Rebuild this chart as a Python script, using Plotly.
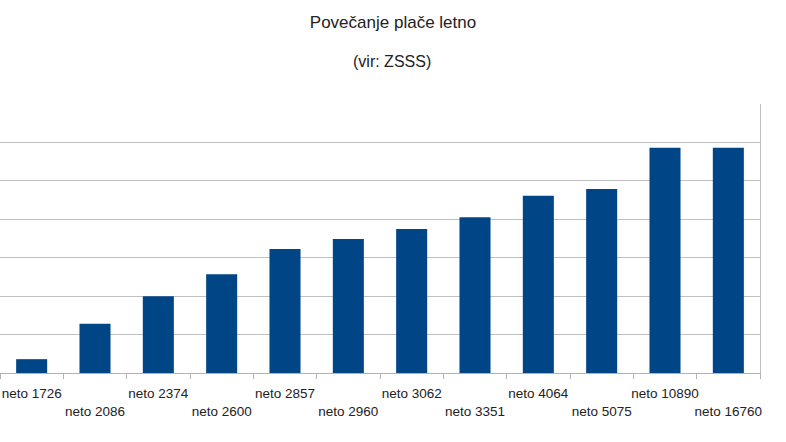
import plotly.graph_objects as go

categories = ["neto 1726", "neto 2086", "neto 2374", "neto 2600", "neto 2857", "neto 2960",
              "neto 3062", "neto 3351", "neto 4064", "neto 5075", "neto 10890", "neto 16760"]
# values in gridline units (axis labels are not visible in the reference)
values = [0.36, 1.28, 2.0, 2.57, 3.23, 3.49, 3.75, 4.05, 4.61, 4.79, 5.86, 5.86]
# staggered labels: every second label on a second row
tick_text = [c if i % 2 == 0 else "<br>" + c for i, c in enumerate(categories)]

FONT = "Liberation Sans, Arial, sans-serif"

fig = go.Figure(go.Bar(x=categories, y=values, marker_color="#004586",
                       marker_line_width=0, width=0.49))

fig.update_layout(
    width=786, height=442,
    margin=dict(l=0, r=26, t=104, b=69, autoexpand=False),
    paper_bgcolor="white", plot_bgcolor="white",
    font=dict(family=FONT, color="#222", size=13.5),
    title=dict(text="Povečanje plače letno", x=0.5, xanchor="center",
               xref="container", y=1 - 22 / 442, yanchor="middle",
               font=dict(size=17, family=FONT, color="#222")),
    annotations=[dict(text="(vir: ZSSS)", xref="paper", yref="paper", x=392 / 760,
                      y=1 + (104 - 62) / 269, xanchor="center", yanchor="middle",
                      showarrow=False, font=dict(size=16, family=FONT, color="#222"))],
    showlegend=False,
    bargap=0.51,
)
fig.update_xaxes(type="category", tickmode="array", tickvals=categories, ticktext=tick_text,
                 tickangle=0, tickson="boundaries", ticks="outside", ticklen=5,
                 tickcolor="#b3b3b3", showline=True, linecolor="#b3b3b3", linewidth=1,
                 showgrid=False, automargin=False, ticklabelstandoff=8)
fig.update_yaxes(range=[0, 7], dtick=1, showgrid=True, gridcolor="#c0c0c0", gridwidth=1,
                 showticklabels=False, ticks="", side="right", showline=True,
                 linecolor="#c0c0c0", linewidth=1, zeroline=False, automargin=False)

fig.write_html("out.html", config={"displayModeBar": False},
               post_script="document.body.style.margin='0px';")
